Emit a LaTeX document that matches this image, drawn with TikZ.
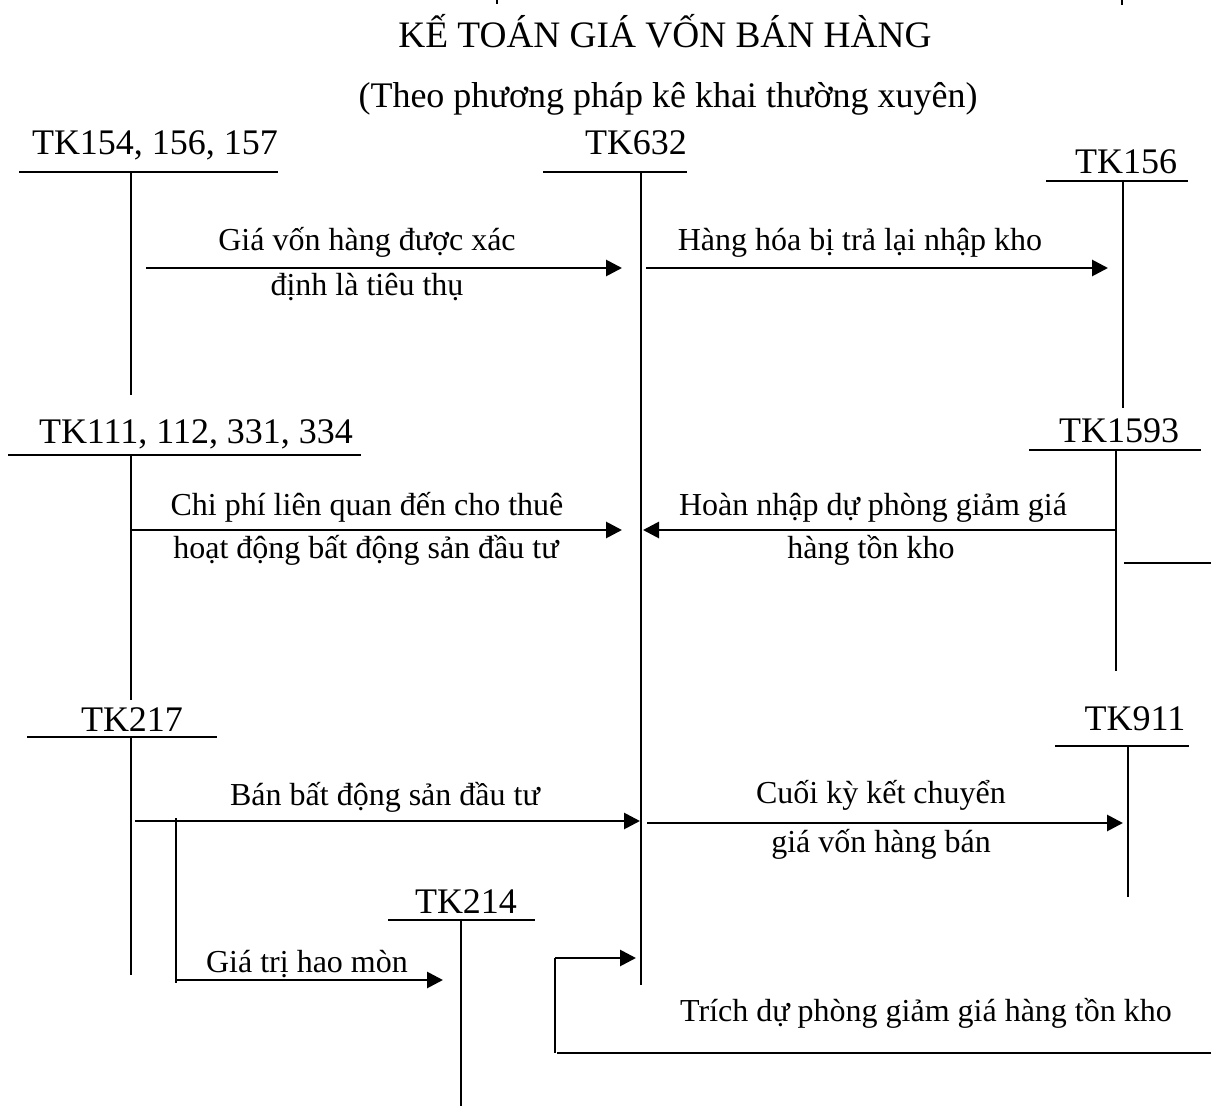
\documentclass[tikz,border=0pt]{standalone}
\usepackage{fontspec}
\setmainfont{Liberation Serif}
\usetikzlibrary{arrows.meta}
\tikzset{
  acct/.style={anchor=base, inner sep=0pt, font=\fontsize{27}{32}\selectfont},
  captxt/.style={anchor=base, inner sep=0pt, font=\fontsize{24}{28}\selectfont},
  tline/.style={line width=1.6pt},
  flow/.style={line width=2.1pt, -{Triangle[length=12pt,width=12pt]}},
  plainline/.style={line width=2.1pt}
}
\begin{document}
\begin{tikzpicture}[x=0.75pt,y=-0.75pt]
\useasboundingbox (0,0) rectangle (1211,1106);
% title
\node[anchor=base,inner sep=0pt,font=\fontsize{28}{33}\selectfont] (title) at (665,48) {KẾ TOÁN GIÁ VỐN BÁN HÀNG};
\node[anchor=base,inner sep=0pt,font=\fontsize{27}{32}\selectfont] (subtitle) at (668,108) {(Theo phương pháp kê khai thường xuyên)};
% tiny marks at top
\draw[line width=0.8pt] (497,0) coordinate (m1a) -- (497,4) coordinate (m1b);
\draw[line width=0.8pt] (1122,0) coordinate (m2a) -- (1122,5) coordinate (m2b);

% account labels
\node[acct] (tk154) at (155,155) {TK154, 156, 157};
\node[acct] (tk632) at (636,155) {TK632};
\node[acct] (tk156) at (1126,173) {TK156};
\node[acct] (tk111) at (196,443) {TK111, 112, 331, 334};
\node[acct] (tk1593) at (1119,442) {TK1593};
\node[acct] (tk217) at (132,731) {TK217};
\node[acct] (tk911) at (1135,730) {TK911};
\node[acct] (tk214) at (466,913) {TK214};

% T-account coordinates
\coordinate (u154a) at (19,172);  \coordinate (u154b) at (278,172);
\coordinate (v154a) at (131,172); \coordinate (v154b) at (131,395);
\coordinate (u632a) at (543,172); \coordinate (u632b) at (687,172);
\coordinate (v632a) at (641,172); \coordinate (v632b) at (641,985);
\coordinate (u156a) at (1046,181); \coordinate (u156b) at (1188,181);
\coordinate (v156a) at (1123,181); \coordinate (v156b) at (1123,408);
\coordinate (u111a) at (8,455);   \coordinate (u111b) at (361,455);
\coordinate (v111a) at (131,455); \coordinate (v111b) at (131,700);
\coordinate (u1593a) at (1029,450); \coordinate (u1593b) at (1201,450);
\coordinate (v1593a) at (1116,450); \coordinate (v1593b) at (1116,671);
\coordinate (x1593a) at (1124,563); \coordinate (x1593b) at (1211,563);
\coordinate (u217a) at (27,737);  \coordinate (u217b) at (217,737);
\coordinate (v217a) at (131,737); \coordinate (v217b) at (131,975);
\coordinate (u911a) at (1055,746); \coordinate (u911b) at (1189,746);
\coordinate (v911a) at (1128,746); \coordinate (v911b) at (1128,897);
\coordinate (u214a) at (388,920); \coordinate (u214b) at (535,920);
\coordinate (v214a) at (461,920); \coordinate (v214b) at (461,1106);

\foreach \a in {154,632,156,111,1593,217,911,214}{
  \draw[tline] (u\a a) -- (u\a b);
  \draw[tline] (v\a a) -- (v\a b);
}
\draw[tline] (x1593a) -- (x1593b);

% flows
\coordinate (f1s) at (146,268);  \coordinate (f1e) at (622,268);
\draw[flow] (f1s) -- (f1e);
\node[captxt] (c1a) at (367,250) {Giá vốn hàng được xác};
\node[captxt] (c1b) at (367,295) {định là tiêu thụ};

\coordinate (f2s) at (646,268);  \coordinate (f2e) at (1108,268);
\draw[flow] (f2s) -- (f2e);
\node[captxt] (c2) at (860,250) {Hàng hóa bị trả lại nhập kho};

\coordinate (f3s) at (131,530);  \coordinate (f3e) at (622,530);
\draw[flow] (f3s) -- (f3e);
\node[captxt] (c3a) at (367,515) {Chi phí liên quan đến cho thuê};
\node[captxt] (c3b) at (366,558) {hoạt động bất động sản đầu tư};

\coordinate (f4s) at (1116,530);  \coordinate (f4e) at (643,530);
\draw[flow] (f4s) -- (f4e);
\node[captxt] (c4a) at (873,515) {Hoàn nhập dự phòng giảm giá};
\node[captxt] (c4b) at (871,558) {hàng tồn kho};

\coordinate (f5s) at (135,821);  \coordinate (f5e) at (640,821);
\draw[flow] (f5s) -- (f5e);
\node[captxt] (c5) at (385,805) {Bán bất động sản đầu tư};

\coordinate (f6s) at (647,823);  \coordinate (f6e) at (1123,823);
\draw[flow] (f6s) -- (f6e);
\node[captxt] (c6a) at (881,803) {Cuối kỳ kết chuyển};
\node[captxt] (c6b) at (881,852) {giá vốn hàng bán};

\coordinate (b7a) at (176,818);  \coordinate (b7b) at (176,983);
\draw[tline] (b7a) -- (b7b);
\coordinate (f7s) at (176,980);  \coordinate (f7e) at (443,980);
\draw[flow] (f7s) -- (f7e);
\node[captxt] (c7) at (307,972) {Giá trị hao mòn};

\coordinate (b8a) at (555,1053); \coordinate (b8b) at (555,958);
\coordinate (f8e) at (636,958);
\draw[tline] (b8a) -- (b8b);
\draw[flow] (b8b) -- (f8e);
\coordinate (l8a) at (557,1053); \coordinate (l8b) at (1211,1053);
\draw[plainline] (l8a) -- (l8b);
\node[captxt] (c8) at (926,1021) {Trích dự phòng giảm giá hàng tồn kho};
\end{tikzpicture}
\end{document}
